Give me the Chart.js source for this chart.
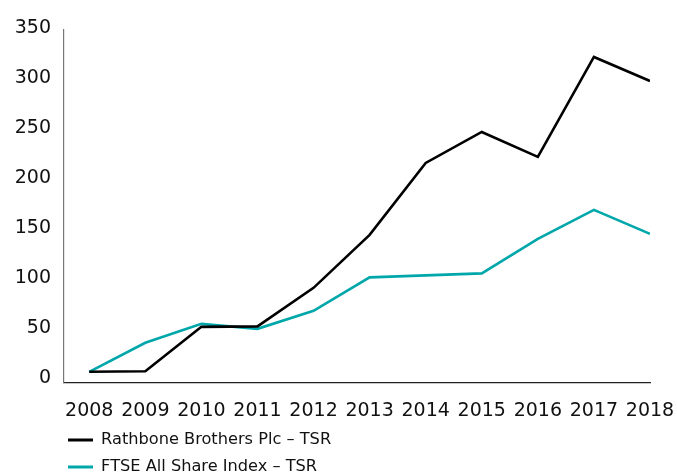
<!DOCTYPE html>
<html>
<head>
<meta charset="utf-8">
<script src="https://cdn.jsdelivr.net/npm/chart.js@4.4.1/dist/chart.umd.min.js"></script>
<style>
  html, body { margin: 0; padding: 0; background: #ffffff; }
  #wrap { width: 677px; height: 473px; position: relative; }
</style>
</head>
<body>
<div id="wrap"><canvas id="c"></canvas></div>
<script>
const years = [2008, 2009, 2010, 2011, 2012, 2013, 2014, 2015, 2016, 2017, 2018];
const rathbone = [5, 5.5, 50, 50.5, 89, 142, 214, 245, 220, 320, 296];
const ftse = [5, 34, 53, 48, 66, 99.5, 101.5, 103.5, 138, 167, 143];
const yTicks = [0, 50, 100, 150, 200, 250, 300, 350];
const seriesNames = ['Rathbone Brothers Plc – TSR', 'FTSE All Share Index – TSR'];
const seriesColors = ['#000000', '#00A7AA'];

const toPoints = (vals) => years.map((y, i) => ({ x: y, y: vals[i] }));

const legendShape = {
  id: 'legendShape',
  beforeLayout(chart) {
    const lg = chart.legend;
    if (!lg || lg._patchedFit) return;
    const origFit = lg.fit;
    lg.fit = function () { origFit.call(this); this.height += 15; };
    lg._patchedFit = true;
  },
  afterLayout(chart) {
    const lg = chart.legend;
    if (!lg) return;
    lg.left = 57;
    lg.right = lg.left + 350;
  }
};

new Chart(document.getElementById('c'), {
  type: 'line',
  data: {
    datasets: [
      { label: seriesNames[0], data: toPoints(rathbone), borderColor: seriesColors[0], backgroundColor: seriesColors[0], borderWidth: 2.6, pointRadius: 0, tension: 0 },
      { label: seriesNames[1], data: toPoints(ftse), borderColor: seriesColors[1], backgroundColor: seriesColors[1], borderWidth: 2.6, pointRadius: 0, tension: 0 }
    ]
  },
  options: {
    responsive: true,
    maintainAspectRatio: false,
    animation: false,
    layout: { padding: { top: 30, left: 14, right: 27, bottom: 0 } },
    plugins: {
      tooltip: { enabled: false },
      legend: {
        display: true,
        position: 'bottom',
        align: 'start',
        labels: {
          boxWidth: 25,
          boxHeight: 3,
          padding: 11,
          color: '#111',
          font: { family: 'DejaVu Sans', size: 16.2 },
          generateLabels(chart) {
            const items = Chart.defaults.plugins.legend.labels.generateLabels(chart);
            items.forEach(it => { it.fillStyle = it.strokeStyle; it.lineWidth = 0; });
            return items;
          }
        }
      }
    },
    scales: {
      x: {
        type: 'linear',
        min: 2007.55,
        max: 2018,
        afterBuildTicks(scale) { scale.ticks = years.map(v => ({ value: v })); },
        afterFit(scale) { scale.height = 38; scale.paddingLeft = 0; scale.paddingRight = 0; },
        grid: { display: false, drawTicks: false },
        border: { display: true, color: '#222', width: 1.2 },
        ticks: {
          padding: 17,
          autoSkip: false,
          maxRotation: 0,
          color: '#111',
          font: { family: 'DejaVu Sans', size: 19 },
          callback: (v) => String(v)
        }
      },
      y: {
        type: 'linear',
        min: -6,
        max: 347,
        afterBuildTicks(scale) { scale.ticks = yTicks.map(v => ({ value: v })); },
        afterFit(scale) { scale.width = 50; scale.paddingTop = 0; scale.paddingBottom = 0; },
        grid: { display: false, drawTicks: false },
        border: { display: true, color: '#777', width: 1.2 },
        ticks: {
          padding: 13,
          labelOffset: 1.5,
          color: '#111',
          font: { family: 'DejaVu Sans', size: 19 },
          callback: (v) => String(v)
        }
      }
    }
  },
  plugins: [legendShape]
});
</script>
</body>
</html>
